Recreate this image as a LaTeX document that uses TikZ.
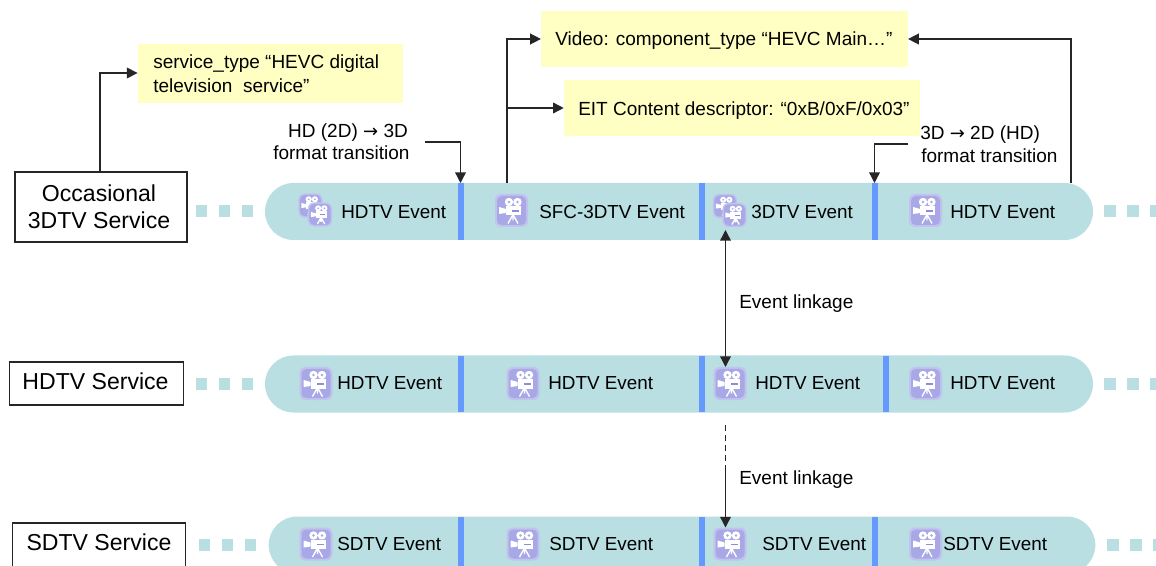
\documentclass[tikz,border=0pt]{standalone}
\usepackage{fontspec}
\setmainfont{Liberation Sans}
\newfontfamily\arrowfont{DejaVu Sans}
\usetikzlibrary{arrows.meta,shapes.misc}
\definecolor{barteal}{HTML}{B9DFE2}
\definecolor{sepblue}{HTML}{6699FF}
\definecolor{noteyellow}{HTML}{FFFFC4}
\definecolor{iconfill}{HTML}{A8A8E6}
\definecolor{iconedge}{HTML}{C2C2EE}
\definecolor{icondark}{HTML}{8C8CD8}
\newcommand{\arw}{{\arrowfont\fontsize{13.5}{16}\selectfont →}}
\tikzset{
  x=0.75pt,y=-0.75pt,
  bar/.style={fill=barteal,draw=none,rounded rectangle,inner sep=0pt},
  sepline/.style={draw=sepblue,line width=4.5pt},
  svcbox/.style={draw=black!85,line width=0.9pt,fill=white,inner sep=0pt,align=center,font=\fontsize{17.3}{20.5}\selectfont},
  note/.style={fill=noteyellow,draw=none,inner sep=0pt},
  lbl/.style={inner sep=0pt,anchor=base west,font=\fontsize{14.15}{17.5}\selectfont},
  notetxt/.style={inner sep=0pt,anchor=base west,align=left,font=\fontsize{14.25}{17.5}\selectfont},
  notemid/.style={inner sep=0pt,anchor=base,font=\fontsize{14.25}{17.5}\selectfont},
  conn/.style={draw=black!85,line width=1.05pt,-{Stealth[length=8pt,width=8pt,inset=0pt]}},
  connb/.style={draw=black!85,line width=1.05pt,{Stealth[length=8pt,width=8pt,inset=0pt]}-{Stealth[length=8pt,width=8pt,inset=0pt]}},
  dot/.style={fill=barteal,draw=none},
  cam/.pic={
    \fill[iconedge,rounded corners=4.5pt] (-16.5,-16.5) rectangle (16.5,16.5);
    \fill[iconfill,rounded corners=3.5pt] (-14.5,-14.5) rectangle (14.5,14.5);
    \fill[white] (-2.5,-8.5) circle (4.2) (6,-8.5) circle (4.2);
    \fill[white] (-5.5,-4.5) rectangle (9.5,5);
    \fill[white] (-5.5,-1.5) -- (-12.5,-3.5) -- (-12.5,3.5) -- (-5.5,2.5) -- cycle;
    \fill[icondark] (0.5,-0.5) rectangle (7.5,1.2);
    \fill[iconfill] (-2.5,-8.5) circle (1.3) (6,-8.5) circle (1.3);
    \draw[white,line width=1pt] (1.5,4) -- (-3.5,13) (1.5,4) -- (6.5,13) (1.5,4) -- (1.5,10);
  },
  camtwo/.pic={
    \pic[scale=0.73] at (-4.5,-4.5) {cam};
    \pic[scale=0.73] at (5,4.5) {cam};
  },
}
\newcommand{\dashes}[2]{%
  \foreach \xx in {0,1,2} \fill[dot] ({#1+\xx*23},{#2-6}) rectangle ({#1+\xx*23+11.5},{#2+6});}
\begin{document}
\begin{tikzpicture}
\clip (0,0) rectangle (1156,566);
\fill[white] (0,0) rectangle (1156,566);

% bars
\node[bar,minimum width=621pt,minimum height=42.75pt] (row1) at (679,211.5) {};
\node[bar,minimum width=621pt,minimum height=42.75pt] (row2) at (679,384) {};
\node[bar,minimum width=620pt,minimum height=42.75pt] (row3) at (682,545) {};

% dashed continuation squares
\dashes{195.5}{211.5}\dashes{1104}{211.5}
\dashes{195.5}{384}\dashes{1104}{384}
\dashes{198.5}{545}\dashes{1107}{545}

% separators
\coordinate (s1a) at (460.5,183); \coordinate (s1b) at (702,183); \coordinate (s1c) at (874.5,183);
\draw[sepline] (s1a) -- (460.5,240) (s1b) -- (702,240) (s1c) -- (874.5,240);
\draw[sepline] (460.5,356) -- (460.5,412) (702,356) -- (702,412) (885.5,356) -- (885.5,412);
\draw[sepline] (460.5,517) -- (460.5,566) (702,517) -- (702,566) (874.5,517) -- (874.5,566);

% service boxes
\node[svcbox,minimum width=129pt,minimum height=52.5pt] (occ) at (101,207) {\hspace*{-3pt}Occasional\\\hspace*{-3pt}3DTV Service};
\node[svcbox,minimum width=131pt,minimum height=32.25pt] (hd) at (96.5,383.5) {\raisebox{3pt}{HDTV Service}\hspace*{1.5pt}};
\node[svcbox,minimum width=129.5pt,minimum height=34.5pt] (sd) at (99,546) {\raisebox{6pt}{SDTV Service}};

% notes
\node[note,minimum width=199pt,minimum height=44pt] (n1) at (270.5,73.5) {};
\node[note,minimum width=275pt,minimum height=42pt] (n2) at (724.5,39) {};
\node[note,minimum width=267pt,minimum height=42pt] (n3) at (742,108) {};
\node[notetxt] (n1t) at (153,69) {service\_type “HEVC digital};
\node[notetxt] (n1u) at (153,93) {television\ \ service”};
\node[notetxt] (n2t) at (555,46) {Video: component\_type “HEVC Main…”};
\node[notetxt] (n3t) at (578,116) {EIT Content descriptor: “0xB/0xF/0x03”};

% icons
\pic at (315,210) {camtwo};
\pic at (511.5,210.5) {cam};
\pic at (729.5,210.5) {camtwo};
\pic at (925.5,210.5) {cam};
\pic at (316,383.5) {cam};
\pic at (523,383.5) {cam};
\pic at (730,383.5) {cam};
\pic at (925.5,383.5) {cam};
\pic at (316,544) {cam};
\pic at (523,544) {cam};
\pic at (730,544) {cam};
\pic at (925.5,544) {cam};

% event labels
\node[lbl] (a1) at (341,218.5) {HDTV Event};
\node[lbl] (a2) at (539,218.5) {SFC-3DTV Event};
\node[lbl] (a3) at (751,218.5) {3DTV Event};
\node[lbl] (a4) at (950,218.5) {HDTV Event};
\node[lbl] (b1) at (337,389.5) {HDTV Event};
\node[lbl] (b2) at (548,389.5) {HDTV Event};
\node[lbl] (b3) at (755,389.5) {HDTV Event};
\node[lbl] (b4) at (950,389.5) {HDTV Event};
\node[lbl] (c1) at (337,550) {SDTV Event};
\node[lbl] (c2) at (549,550) {SDTV Event};
\node[lbl] (c3) at (762,550) {SDTV Event};
\node[lbl] (c4) at (943,550) {SDTV Event};

% transition labels
\node[notemid] (t1a) at (348,138) {HD (2D) \arw{} 3D};
\node[notetxt] (t1b) at (273,160) {format transition};
\node[notetxt] (t2a) at (920,140) {3D \arw{} 2D (HD)};
\node[notetxt] (t2b) at (921,163) {format transition};
\node[notetxt] (l1) at (739,309) {Event linkage};
\node[notetxt] (l2) at (739,484) {Event linkage};

% connectors
\coordinate (occtop) at (100,172);
\draw[conn] (occtop) |- (n1.west |- 0,73);
\coordinate (vstart) at (507,183);
\draw[conn] (vstart) |- (n2.west);
\draw[conn] (507,108) -- (n3.west);
\coordinate (hstart) at (1071,183);
\draw[conn] (hstart) |- (n2.east);
\coordinate (t1e) at (425,142);
\draw[conn] (t1e) -| (s1a);
\coordinate (t2e) at (908,144);
\draw[conn] (t2e) -| (s1c);
\coordinate (la) at (725.5,230);
\coordinate (lb) at (725.5,367);
\draw[connb] (la) -- (lb);
\coordinate (lc) at (725.5,425);
\coordinate (ld) at (725.5,465);
\coordinate (le) at (725.5,527.5);
\draw[draw=black!85,line width=1.05pt,dash pattern=on 4.5pt off 3pt] (lc) -- (ld);
\draw[conn] (ld) -- (le);
\end{tikzpicture}
\end{document}
